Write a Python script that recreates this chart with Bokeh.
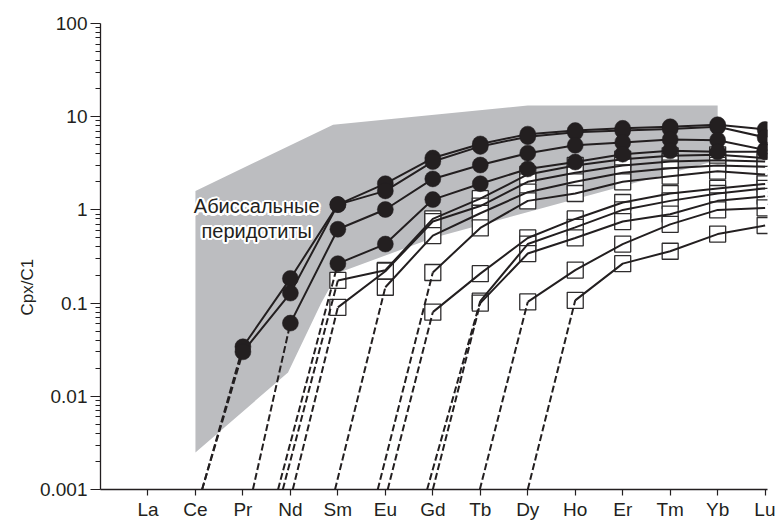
import math
from bokeh.plotting import figure
from bokeh.models import Range1d, FixedTicker, Label, CustomJSTickFormatter, Title
from bokeh.embed import file_html
from bokeh.resources import INLINE

# ---------------- data ----------------
elements = ["La", "Ce", "Pr", "Nd", "Sm", "Eu", "Gd", "Tb", "Dy", "Ho", "Er", "Tm", "Yb", "Lu"]

# abyssal peridotite field (element position 1=La ... 14=Lu, Cpx/C1)
field_x = [2.0, 4.9, 9.0, 13.0, 13.0, 7.0, 5.0, 4.65, 3.95, 2.0]
field_y = [1.6, 8.2, 13.2, 13.2, 3.4, 0.5, 0.21, 0.1, 0.018, 0.0025]

# filled-circle samples: first element, values from it onward
circle_starts = ["Pr", "Pr", "Nd", "Sm"]
circle_a = [0.034, 0.184, 1.14, 1.91, 3.6, 5.1, 6.5, 7.1, 7.5, 7.8, 8.2, 7.3]
circle_b = [0.030, 0.128, 1.14, 1.6, 3.3, 4.8, 6.1, 6.8, 7.1, 7.4, 7.8, 6.0]
circle_c = [0.061, 0.62, 1.01, 2.15, 3.03, 4.06, 4.93, 5.3, 5.7, 5.6, 4.4]
circle_d = [0.265, 0.43, 1.29, 1.91, 2.75, 3.26, 3.96, 4.3, 4.2, 4.2]
circle_dash_from = [2.14, 2.14, 3.21, 3.74]   # extrapolated crossing of 0.001

# open-square samples
square_starts = ["Sm", "Sm", "Eu", "Gd", "Gd", "Tb", "Tb", "Dy", "Ho"]
square_1 = [0.175, 0.225, 0.80, 1.32, 2.4, 3.0, 3.5, 3.8, 3.9, 3.6]
square_2 = [0.09, 0.22, 0.75, 1.1, 2.0, 2.5, 3.0, 3.3, 3.4, 3.3]
square_3 = [0.148, 0.53, 0.92, 1.55, 2.0, 2.5, 2.8, 3.0, 2.9]
square_4 = [0.213, 0.64, 1.25, 1.5, 2.0, 2.3, 2.6, 2.4]
square_5 = [0.08, 0.207, 0.50, 0.80, 1.2, 1.5, 1.7, 1.9]
square_6 = [0.105, 0.43, 0.65, 1.0, 1.25, 1.5, 1.7]
square_7 = [0.10, 0.34, 0.50, 0.75, 0.9, 1.25, 1.4]
square_8 = [0.103, 0.226, 0.43, 0.7, 1.0, 1.05]
square_9 = [0.107, 0.265, 0.36, 0.55, 0.68]
square_dash_from = [3.84, 4.05, 4.94, 5.84, 6.05, 6.88, 7.0, 7.99, 9.0]

y_ticks = [0.001, 0.01, 0.1, 1, 10, 100]
y_axis_label = "Cpx/C1"
field_label = ["Абиссальные", "перидотиты"]

# ---------------- figure ----------------
INK = "#231f20"
FONT = "Liberation Sans"

p = figure(width=775, height=522, y_axis_type="log",
           x_range=Range1d(0, 14.05), y_range=Range1d(0.001, 100),
           output_backend="svg", toolbar_location=None,
           min_border_left=100, min_border_right=8, min_border_top=23, min_border_bottom=30)
p.outline_line_color = None
p.xgrid.visible = False
p.ygrid.visible = False
p.background_fill_color = "white"

p.patch(field_x, field_y, fill_color="#bcbdc0", line_color=None)

def xs_of(start, vals):
    i0 = elements.index(start) + 1
    return list(range(i0, i0 + len(vals)))

circles = [circle_a, circle_b, circle_c, circle_d]
squares = [square_1, square_2, square_3, square_4, square_5, square_6, square_7, square_8, square_9]

# squares (white interior) underneath lines
for start, vals in zip(square_starts, squares):
    p.scatter(xs_of(start, vals), vals, marker="square", size=16,
              fill_color="white", line_color="#2e2c2d", line_width=1.3)

# dashed extrapolations
for start, vals, x0 in list(zip(circle_starts, circles, circle_dash_from)) + \
        list(zip(square_starts, squares, square_dash_from)):
    xs = xs_of(start, vals)
    p.line([x0, xs[0]], [0.001, vals[0]], line_color=INK, line_width=2, line_dash="7 3")

# solid lines
for start, vals in list(zip(circle_starts, circles)) + list(zip(square_starts, squares)):
    p.line(xs_of(start, vals), vals, line_color=INK, line_width=2)

for start, vals in zip(circle_starts, circles):
    p.scatter(xs_of(start, vals), vals, marker="circle", size=16,
              fill_color=INK, line_color=INK, line_width=0.5)

# field label with white halo
for text, ly in zip(field_label, [1.09, 0.59]):
    for ang in range(0, 360, 30):
        dx = 2.2 * math.cos(math.radians(ang))
        dy = 2.2 * math.sin(math.radians(ang))
        p.add_layout(Label(x=3.29, y=ly, text=text, text_align="center", text_baseline="middle",
                           x_offset=dx, y_offset=dy, text_color="white",
                           text_font=FONT, text_font_size="20px"))
    p.add_layout(Label(x=3.29, y=ly, text=text, text_align="center", text_baseline="middle",
                       text_color=INK, text_font=FONT, text_font_size="20px"))

# y-axis title (placed as a side title so that it can sit below the centre)
p.add_layout(Title(text=y_axis_label, align="left", offset=174, vertical_align="bottom",
                   text_font=FONT, text_font_style="normal", text_font_size="17px",
                   text_color=INK, standoff=0), "left")

# axes
xa = p.xaxis[0]
xa.ticker = FixedTicker(ticks=list(range(1, len(elements) + 1)))
xa.major_label_overrides = {i + 1: e for i, e in enumerate(elements)}
xa.major_tick_out = 6
xa.major_tick_in = 0
xa.minor_tick_out = 0
xa.minor_tick_in = 0
xa.axis_line_color = INK
xa.axis_line_width = 1.3
xa.major_tick_line_color = INK
xa.major_tick_line_width = 1.2
xa.major_label_text_font = FONT
xa.major_label_text_font_size = "19px"
xa.major_label_text_color = INK
xa.major_label_standoff = 3

ya = p.yaxis[0]
minor = [k * 10.0 ** e for e in range(-3, 2) for k in range(2, 10)]
ya.ticker = FixedTicker(ticks=y_ticks, minor_ticks=minor)
ya.formatter = CustomJSTickFormatter(code="return tick.toString();")
ya.major_tick_out = 10
ya.major_tick_in = 0
ya.minor_tick_out = 5
ya.minor_tick_in = 0
ya.axis_line_color = INK
ya.axis_line_width = 1.3
ya.major_tick_line_color = INK
ya.minor_tick_line_color = INK
ya.major_tick_line_width = 1.2
ya.minor_tick_line_width = 1.0
ya.major_label_text_font = FONT
ya.major_label_text_font_size = "19px"
ya.major_label_text_color = INK
ya.major_label_standoff = 3

open("out.html", "w").write(file_html(p, INLINE))
